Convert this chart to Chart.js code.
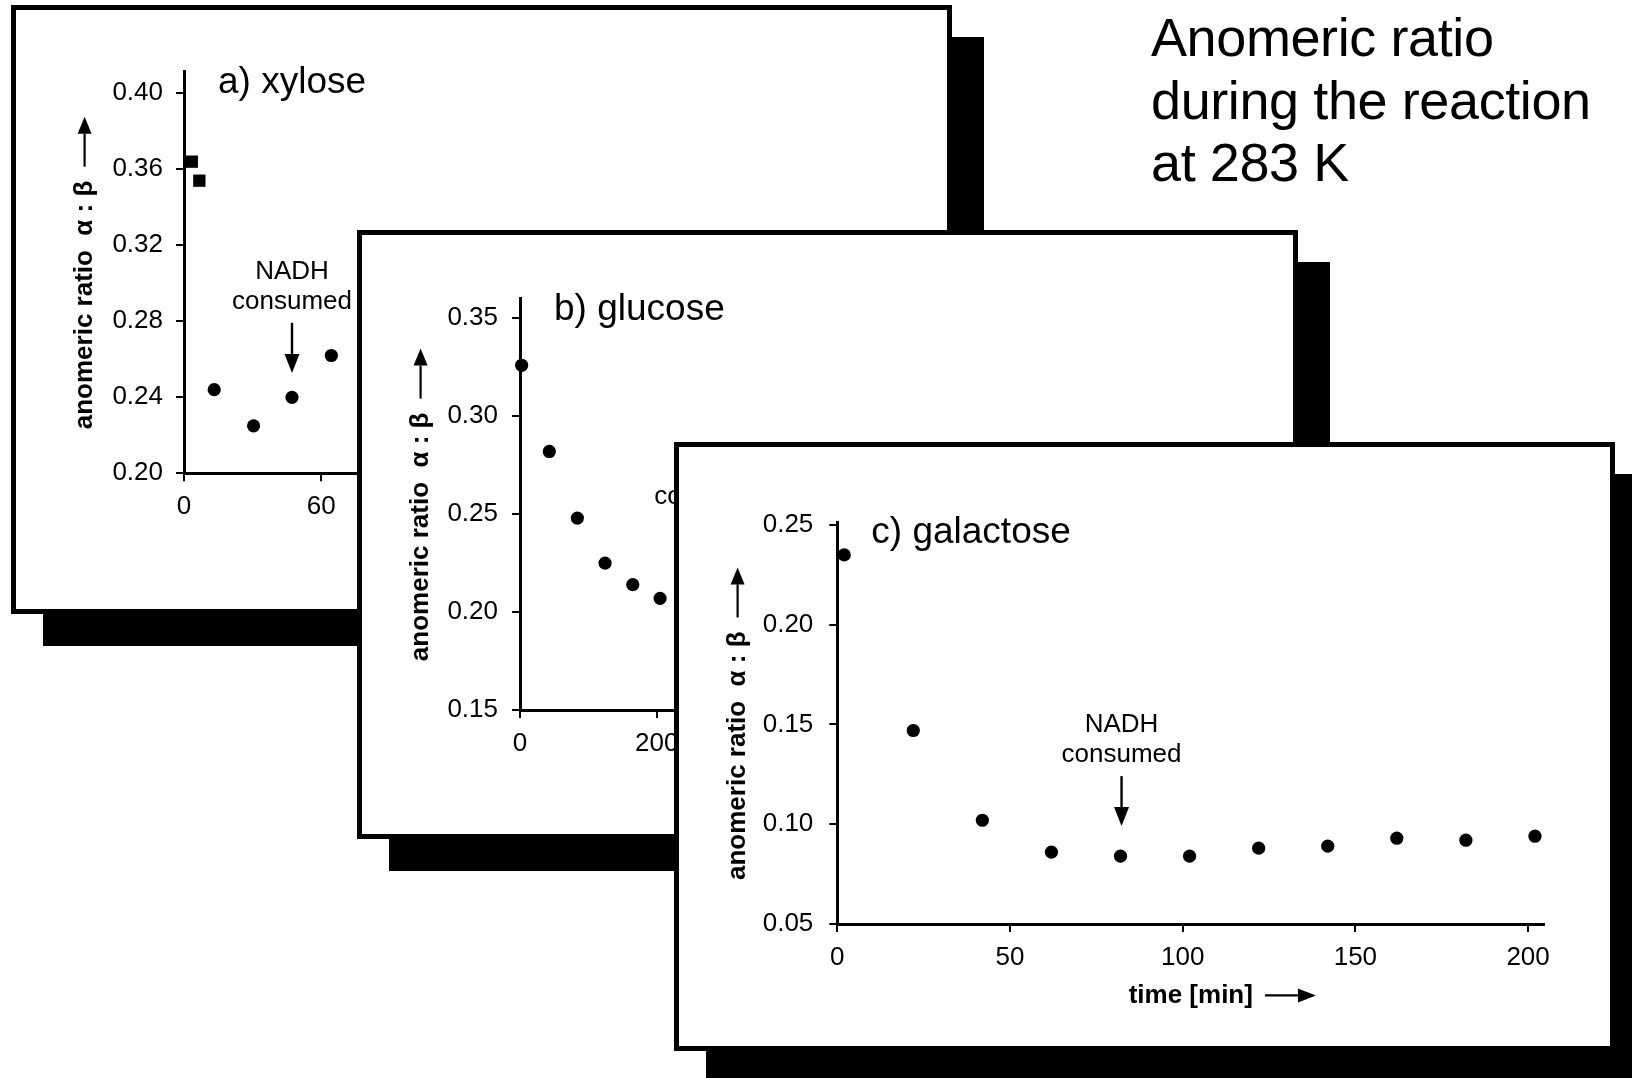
<!DOCTYPE html>
<html>
<head>
<meta charset="utf-8">
<script src="https://cdn.jsdelivr.net/npm/chart.js@4.4.1/dist/chart.umd.min.js"></script>
<style>
  body { margin: 0; width: 1632px; height: 1078px; overflow: hidden; background: #fff; position: relative;
         font-family: "Liberation Sans", Arial, sans-serif; }
  .panel { position: absolute; width: 941px; height: 609px; box-sizing: border-box;
           border: 5px solid #000; background: #fff; box-shadow: 32px 32px 0 0 #000; }
  .panel canvas { display: block; }
  #heading { position: absolute; left: 1151px; top: 6px; font-size: 54px; line-height: 62.5px;
             letter-spacing: -0.4px; color: #000; }
</style>
</head>
<body>
<div id="heading">Anomeric ratio<br>during the reaction<br>at 283 K</div>
<div class="panel" style="left:11px;top:5px;z-index:1"><canvas id="chartA" width="931" height="599"></canvas></div>
<div class="panel" style="left:357px;top:230px;z-index:2"><canvas id="chartB" width="931" height="599"></canvas></div>
<div class="panel" style="left:674px;top:442px;z-index:3"><canvas id="chartC" width="931" height="599"></canvas></div>

<script>
// a) xylose
const xyloseSquareTime = [3.4, 6.7];
const xyloseSquareRatio = [0.364, 0.354];
const xyloseTime = [13.2, 30.4, 47.2, 64.4];
const xyloseRatio = [0.244, 0.225, 0.240, 0.262];
const xyloseXTicks = [0, 60, 120, 180, 240, 300];
const xyloseYTicks = [0.20, 0.24, 0.28, 0.32, 0.36, 0.40];

// b) glucose
const glucoseTime = [2.4, 42.9, 83.9, 124.4, 164.9, 204.9];
const glucoseRatio = [0.326, 0.282, 0.248, 0.225, 0.214, 0.207];
const glucoseXTicks = [0, 200, 400, 600, 800, 1000];
const glucoseYTicks = [0.15, 0.20, 0.25, 0.30, 0.35];

// c) galactose
const galactoseTime = [2, 22, 42, 62, 82, 102, 122, 142, 162, 182, 202];
const galactoseRatio = [0.235, 0.147, 0.102, 0.086, 0.084, 0.084, 0.088, 0.089, 0.093, 0.092, 0.094];
const galactoseXTicks = [0, 50, 100, 150, 200];
const galactoseYTicks = [0.05, 0.10, 0.15, 0.20, 0.25];

// time when NADH ran out [min]
const nadhTime = { a: 47.2, b: 284, c: 82.3 };

const FONT = '"Liberation Sans", Arial, sans-serif';
const yTitle = 'anomeric ratio  α : β';
const xTitle = 'time [min]';
const titleSize = 26;

Chart.defaults.font.family = FONT;
Chart.defaults.color = '#000';

const pts = (xs, ys) => xs.map((x, i) => ({ x, y: ys[i] }));

function arrow(ctx, x1, y1, x2, y2, head, half, lw) {
  const a = Math.atan2(y2 - y1, x2 - x1);
  const bx = x2 - head * Math.cos(a), by = y2 - head * Math.sin(a);
  ctx.lineWidth = lw;
  ctx.beginPath();
  ctx.moveTo(x1, y1);
  ctx.lineTo(bx, by);
  ctx.stroke();
  ctx.beginPath();
  ctx.moveTo(x2, y2);
  ctx.lineTo(bx + half * Math.sin(a), by - half * Math.cos(a));
  ctx.lineTo(bx - half * Math.sin(a), by + half * Math.cos(a));
  ctx.closePath();
  ctx.fill();
}

// panel label, NADH note and the arrows behind the axis titles
const panelDecor = {
  id: 'panelDecor',
  afterDraw(chart, args, opts) {
    const { ctx, chartArea, scales: { x, y } } = chart;
    ctx.save();
    ctx.fillStyle = '#000';
    ctx.strokeStyle = '#000';

    ctx.font = '37px ' + FONT;
    ctx.textAlign = 'left';
    ctx.textBaseline = 'alphabetic';
    ctx.fillText(opts.label, chartArea.left + 34, chartArea.top + 21);

    const nx = x.getPixelForValue(opts.nadhX);
    const ny = y.getPixelForValue(opts.nadhY);
    ctx.font = '26px ' + FONT;
    ctx.textAlign = 'center';
    ctx.textBaseline = 'middle';
    ctx.fillText('NADH', nx, ny);
    ctx.fillText('consumed', nx, ny + 30);
    arrow(ctx, nx, ny + 51, nx, ny + 101, 19, 7.5, 2.4);

    const lh = titleSize * 1.2;
    ctx.font = 'bold ' + titleSize + 'px ' + FONT;
    const yt = y.options.title;
    const full = ctx.measureText(yt.text).width;
    const words = ctx.measureText(yt.text.trimEnd()).width;
    const tx = y.left + lh / 2 + yt.padding.top;
    const end = (y.top + y.bottom) / 2 + full / 2 - words;
    arrow(ctx, tx, end - 14, tx, end - 64, 17, 7, 2.2);

    const xt = x.options.title;
    const tw = ctx.measureText(xt.text).width;
    const ty = x.bottom - lh / 2 - xt.padding.bottom;
    const sx = (x.left + x.right) / 2 + tw / 2 + 12;
    arrow(ctx, sx, ty, sx + 51, ty, 18, 7, 2.2);

    ctx.restore();
  }
};

function axisStyle() {
  return {
    grid: { drawOnChartArea: false, drawTicks: true, tickLength: 8, tickWidth: 2, tickColor: '#000', color: '#000', lineWidth: 2 },
    border: { display: true, color: '#000', width: 3 }
  };
}

function makeChart(id, c) {
  return new Chart(document.getElementById(id), {
    type: 'scatter',
    data: { datasets: c.datasets },
    options: {
      responsive: false,
      animation: false,
      layout: { padding: { left: 0, top: c.top, right: c.right, bottom: 0 } },
      plugins: {
        legend: { display: false },
        tooltip: { enabled: false },
        panelDecor: { label: c.label, nadhX: c.nadhX, nadhY: c.nadhY }
      },
      scales: {
        x: {
          type: 'linear', min: 0, max: c.xMax,
          ...axisStyle(),
          afterBuildTicks: s => { s.ticks = c.xTicks.map(v => ({ value: v })); },
          afterFit: s => { s.height = c.xHeight; },
          ticks: { font: { size: 26 }, padding: 10, maxRotation: 0, callback: v => String(v) },
          title: { display: true, text: xTitle, font: { size: titleSize, weight: 'bold' }, padding: { top: 0, bottom: 35 } }
        },
        y: {
          type: 'linear', min: c.yMin, max: c.yMax,
          ...axisStyle(),
          afterBuildTicks: s => { s.ticks = c.yTicks.map(v => ({ value: v })); },
          afterFit: s => { s.width = c.yWidth; },
          ticks: { font: { size: 26 }, padding: c.tickPad, callback: v => v.toFixed(2) },
          title: { display: true, text: yTitle + ' '.repeat(9), font: { size: titleSize, weight: 'bold' }, padding: { top: c.titlePad, bottom: 0 } }
        }
      }
    },
    plugins: [panelDecor]
  });
}

const dot = { pointStyle: 'circle', pointRadius: 6.6, backgroundColor: '#000', borderWidth: 0, clip: false };

makeChart('chartA', {
  datasets: [
    { ...dot, data: pts(xyloseSquareTime, xyloseSquareRatio), pointStyle: 'rect', pointRadius: 8.7 },
    { ...dot, data: pts(xyloseTime, xyloseRatio) }
  ],
  label: 'a) xylose', nadhX: nadhTime.a, nadhY: 0.306,
  xMax: 309, yMin: 0.20, yMax: 0.4114, xTicks: xyloseXTicks, yTicks: xyloseYTicks,
  top: 61.6, right: 56, yWidth: 168, xHeight: 135.7, tickPad: 13, titlePad: 53
});

makeChart('chartB', {
  datasets: [{ ...dot, data: pts(glucoseTime, glucoseRatio) }],
  label: 'b) glucose', nadhX: nadhTime.b, nadhY: 0.2744,
  xMax: 1034, yMin: 0.15, yMax: 0.36, xTicks: glucoseXTicks, yTicks: glucoseYTicks,
  top: 63.7, right: 66, yWidth: 158, xHeight: 124, tickPad: 14, titlePad: 43
});

makeChart('chartC', {
  datasets: [{ ...dot, data: pts(galactoseTime, galactoseRatio) }],
  label: 'c) galactose', nadhX: nadhTime.c, nadhY: 0.1497,
  xMax: 204.7, yMin: 0.05, yMax: 0.2513, xTicks: galactoseXTicks, yTicks: galactoseYTicks,
  top: 75.4, right: 65.7, yWidth: 158.3, xHeight: 122, tickPad: 16, titlePad: 43
});
</script>
</body>
</html>
